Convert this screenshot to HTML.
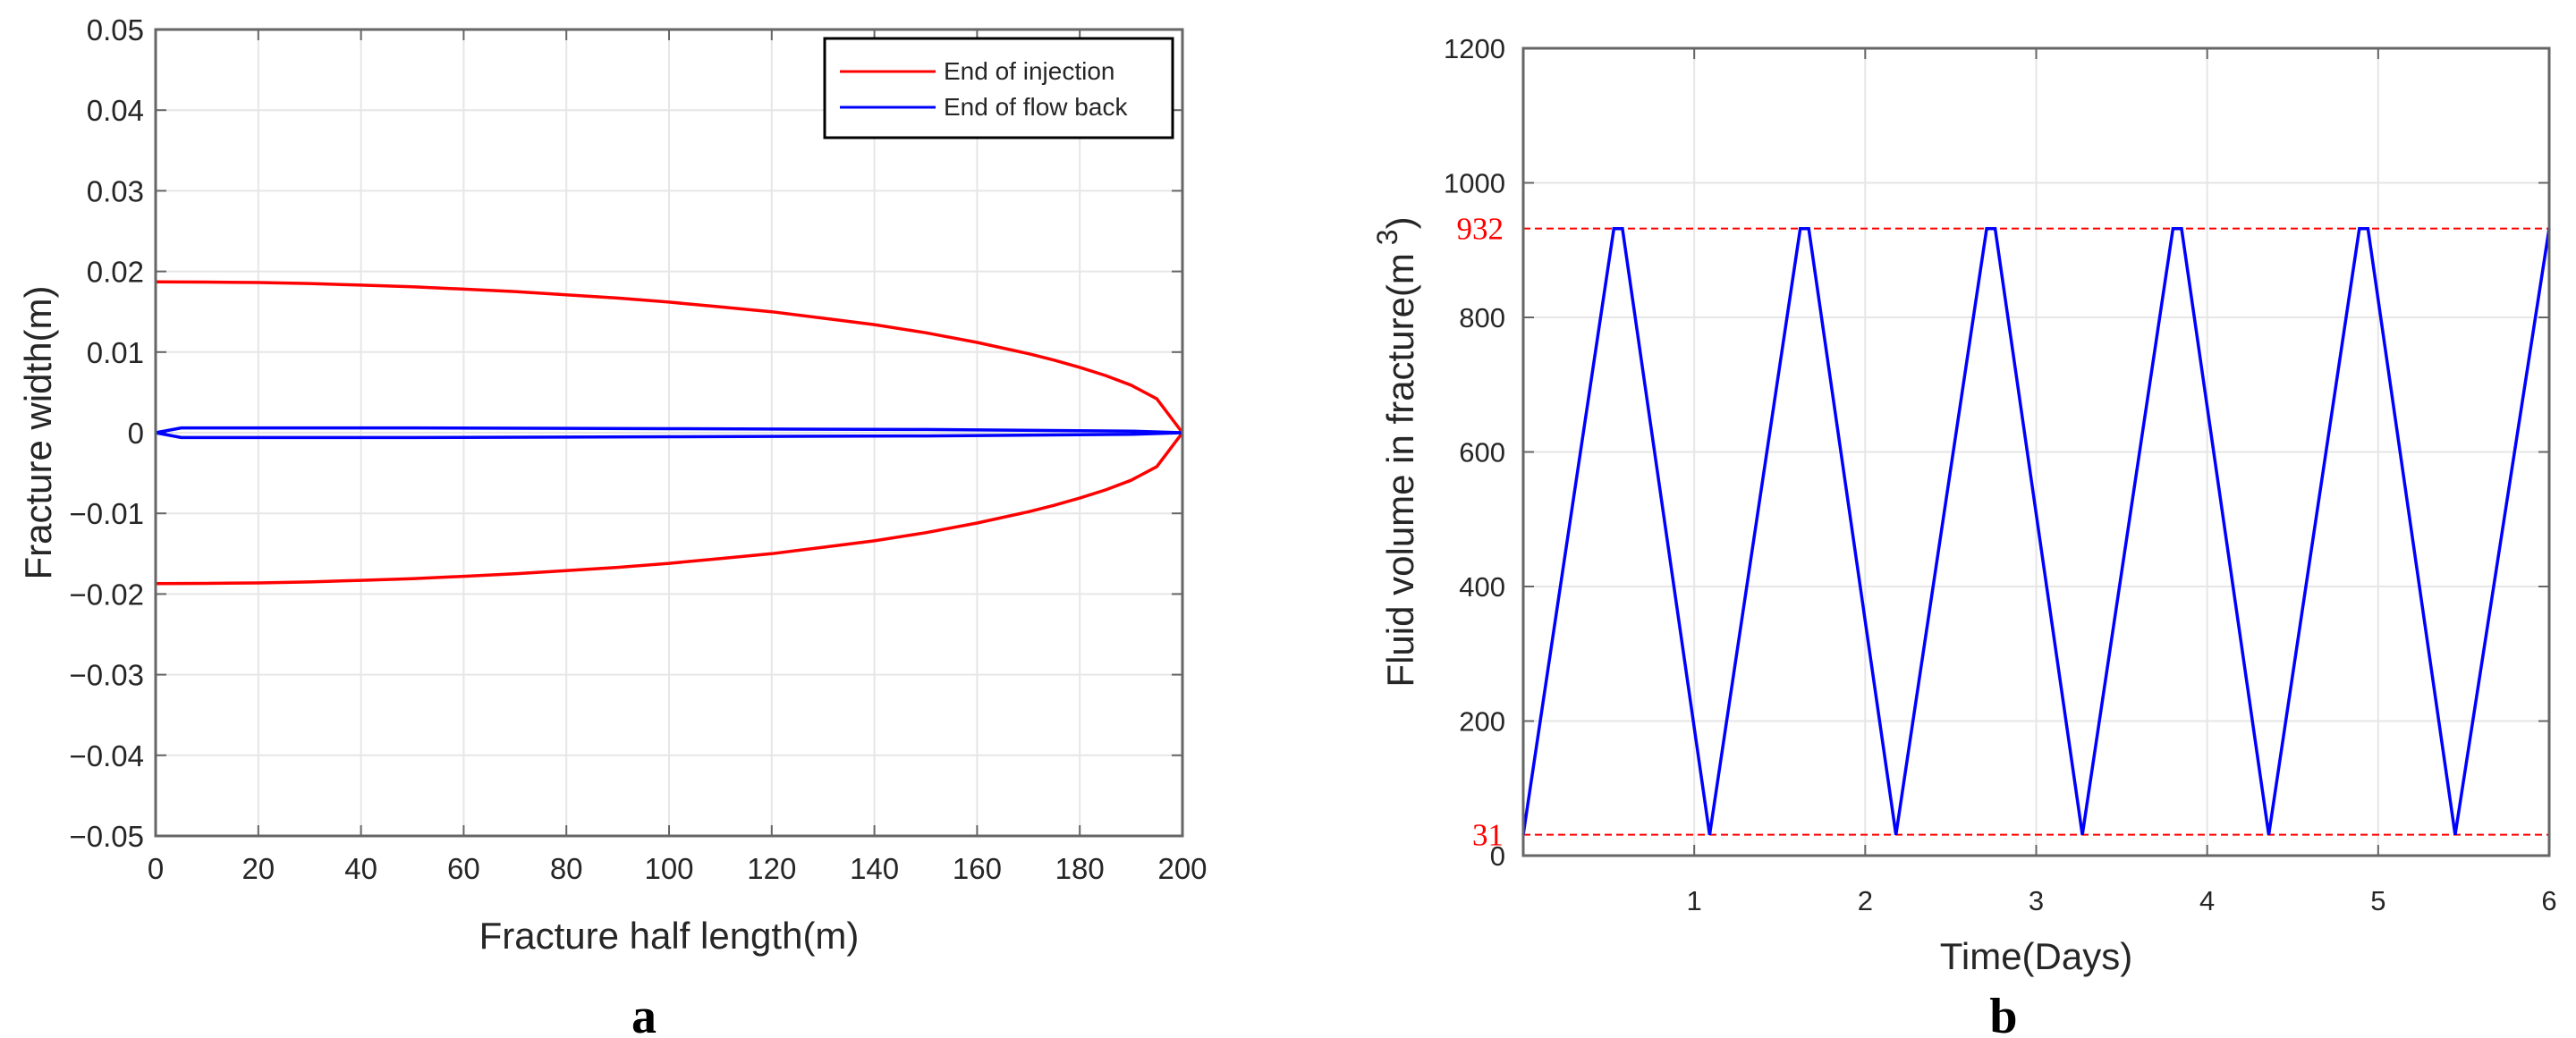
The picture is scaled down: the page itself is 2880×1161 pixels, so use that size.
<!DOCTYPE html>
<html><head><meta charset="utf-8"><style>
html,body{margin:0;padding:0;background:#fff;}
svg{display:block;font-family:"Liberation Sans",sans-serif;}
</style></head><body>
<svg id="fig" width="2880" height="1161" viewBox="0 0 2880 1161">
<g id="chartA"></g>
<g id="chartB"></g>
</svg>
<script>
// Chart A data
const aXTicks = [0,20,40,60,80,100,120,140,160,180,200];
const aYTicks = [0.05,0.04,0.03,0.02,0.01,0,-0.01,-0.02,-0.03,-0.04,-0.05];
const aYTickLabels = ["0.05","0.04","0.03","0.02","0.01","0","\u22120.01","\u22120.02","\u22120.03","\u22120.04","\u22120.05"];
const injX = [0,10,20,30,40,50,60,70,80,90,100,110,120,130,140,150,160,170,175,180,185,190,195,200];
const injUpper = [0.0187,0.01868,0.01862,0.0185,0.0183,0.0181,0.0178,0.0175,0.0171,0.0167,0.0162,0.0156,0.015,0.0142,0.0134,0.0124,0.0112,0.0098,0.0090,0.0081,0.0071,0.0059,0.0042,0];
const injLower = [-0.0187,-0.01868,-0.01862,-0.0185,-0.0183,-0.0181,-0.0178,-0.0175,-0.0171,-0.0167,-0.0162,-0.0156,-0.015,-0.0142,-0.0134,-0.0124,-0.0112,-0.0098,-0.0090,-0.0081,-0.0071,-0.0059,-0.0042,0];
const fbX = [0,5,50,100,150,190,200];
const fbUpper = [0,0.0006,0.0006,0.0005,0.0004,0.0002,0];
const fbLower = [0,-0.0006,-0.0006,-0.0005,-0.0004,-0.0002,0];
// Chart B data
const bXTicks = [1,2,3,4,5,6];
const bYTicks = [0,200,400,600,800,1000,1200];
const bTime = [0,0.53,0.58,1.09,1.62,1.67,2.18,2.71,2.76,3.27,3.80,3.85,4.36,4.89,4.94,5.45,6.0];
const bVol = [31,932,932,31,932,932,31,932,932,31,932,932,31,932,932,31,932];
const bRefLines = [932,31];

const NS="http://www.w3.org/2000/svg";
function mk(parent,tag,attrs,text){const e=document.createElementNS(NS,tag);for(const k in attrs)e.setAttribute(k,attrs[k]);if(text!==undefined)e.textContent=text;parent.appendChild(e);return e;}

// ---- Chart A ----
(function(){
const g=document.getElementById('chartA');
const L=174,R=1322,T=33,B=935;
const sx=v=>L+(v-0)/(200-0)*(R-L);
const sy=v=>B-(v+0.05)/(0.1)*(B-T);
aXTicks.forEach(t=>{const x=sx(t);
 const gl=mk(g,'line',{x1:x,x2:x,y1:T,y2:B,stroke:'#e6e6e6','stroke-width':2});
 
 
 mk(g,'line',{x1:x,x2:x,y1:B,y2:B-12,stroke:'#666','stroke-width':2});
 mk(g,'line',{x1:x,x2:x,y1:T,y2:T+12,stroke:'#666','stroke-width':2});
 const tl=mk(g,'text',{x:x,y:983,'text-anchor':'middle','font-size':33,fill:'#262626'},String(t));
 
 
});
aYTicks.forEach((t,i)=>{const y=sy(t);
 const gl=mk(g,'line',{x1:L,x2:R,y1:y,y2:y,stroke:'#e6e6e6','stroke-width':2});
 
 
 mk(g,'line',{x1:L,x2:L+12,y1:y,y2:y,stroke:'#666','stroke-width':2});
 mk(g,'line',{x1:R,x2:R-12,y1:y,y2:y,stroke:'#666','stroke-width':2});
 const tl=mk(g,'text',{x:161,y:y+12,'text-anchor':'end','font-size':33,fill:'#262626'},aYTickLabels[i]);
 
 
});
const pts=(xs,ys)=>xs.map((x,i)=>sx(x).toFixed(1)+','+sy(ys[i]).toFixed(1)).join(' ');
const series=[[injX,injUpper,'#ff0000','injection-upper'],[injX,injLower,'#ff0000','injection-lower'],[fbX,fbUpper,'#0000ff','flowback-upper'],[fbX,fbLower,'#0000ff','flowback-lower']];
series.forEach(s=>{const p=mk(g,'polyline',{points:pts(s[0],s[1]),fill:'none',stroke:s[2],'stroke-width':3.5,'stroke-linejoin':'round'});
 
 });
const box=mk(g,'rect',{x:L,y:T,width:R-L,height:B-T,fill:'none',stroke:'#666','stroke-width':3});


// legend
const lg=mk(g,'g',{});


mk(lg,'rect',{x:922,y:43,width:389,height:111,fill:'#fff',stroke:'#000','stroke-width':3});
mk(lg,'line',{x1:939,x2:1046,y1:80,y2:80,stroke:'#ff0000','stroke-width':3});
mk(lg,'text',{x:1055,y:89,'font-size':28,fill:'#262626'},'End of injection');
mk(lg,'line',{x1:939,x2:1046,y1:120,y2:120,stroke:'#0000ff','stroke-width':3});
mk(lg,'text',{x:1055,y:129,'font-size':28,fill:'#262626'},'End of flow back');
const xt=mk(g,'text',{x:(L+R)/2,y:1061,'text-anchor':'middle','font-size':42,fill:'#262626'},'Fracture half length(m)');


const yt=mk(g,'text',{x:0,y:0,'text-anchor':'middle','font-size':42,fill:'#262626',transform:'translate(57,'+((T+B)/2)+') rotate(-90)'},'Fracture width(m)');


const pl=mk(g,'text',{x:720,y:1155,'text-anchor':'middle','font-size':56,'font-weight':'bold','font-family':'"Liberation Serif",serif',fill:'#000'},'a');


})();

// ---- Chart B ----
(function(){
const g=document.getElementById('chartB');
const L=1703,R=2850,T=54,B=957;
const sx=v=>L+v/6*(R-L);
const sy=v=>B-v/1200*(B-T);
bXTicks.forEach(t=>{const x=sx(t);
 const gl=mk(g,'line',{x1:x,x2:x,y1:T,y2:B,stroke:'#e6e6e6','stroke-width':2});
 
 
 mk(g,'line',{x1:x,x2:x,y1:B,y2:B-12,stroke:'#666','stroke-width':2});
 mk(g,'line',{x1:x,x2:x,y1:T,y2:T+12,stroke:'#666','stroke-width':2});
 const tl=mk(g,'text',{x:x,y:1018,'text-anchor':'middle','font-size':31,fill:'#262626'},String(t));
 
 
});
bYTicks.forEach(t=>{const y=sy(t);
 const gl=mk(g,'line',{x1:L,x2:R,y1:y,y2:y,stroke:'#e6e6e6','stroke-width':2});
 
 
 mk(g,'line',{x1:L,x2:L+12,y1:y,y2:y,stroke:'#666','stroke-width':2});
 mk(g,'line',{x1:R,x2:R-12,y1:y,y2:y,stroke:'#666','stroke-width':2});
 const tl=mk(g,'text',{x:1683,y:y+11,'text-anchor':'end','font-size':31,fill:'#262626'},String(t));
 
 
});
bRefLines.forEach(v=>{const y=sy(v);
 const rl=mk(g,'line',{x1:L,x2:R,y1:y,y2:y,stroke:'#ff0000','stroke-width':2,'stroke-dasharray':'8,5'});
 
 
 const lb=mk(g,'text',{x:1681,y:y+12,'text-anchor':'end','font-size':35,'font-family':'"Liberation Serif",serif',fill:'#ff0000'},String(v));
 
 
});
const p=mk(g,'polyline',{points:bTime.map((t,i)=>sx(t).toFixed(1)+','+sy(bVol[i]).toFixed(1)).join(' '),fill:'none',stroke:'#0000ff','stroke-width':3.5});


const box=mk(g,'rect',{x:L,y:T,width:R-L,height:B-T,fill:'none',stroke:'#666','stroke-width':3});


const xt=mk(g,'text',{x:(L+R)/2,y:1084,'text-anchor':'middle','font-size':42,fill:'#262626'},'Time(Days)');


const yt=mk(g,'text',{x:0,y:0,'text-anchor':'middle','font-size':42,fill:'#262626',transform:'translate(1580,'+((T+B)/2)+') rotate(-90)'});


mk(yt,'tspan',{},'Fluid volume in fracture(m');
mk(yt,'tspan',{dy:-18,'font-size':32},' 3');
mk(yt,'tspan',{dy:18},')');
const pl=mk(g,'text',{x:2240,y:1155,'text-anchor':'middle','font-size':56,'font-weight':'bold','font-family':'"Liberation Serif",serif',fill:'#000'},'b');


})();
</script>
</body></html>
